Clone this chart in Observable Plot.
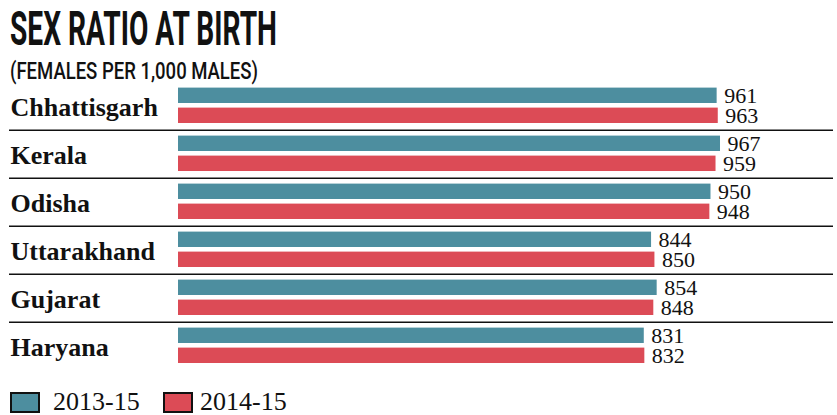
<!DOCTYPE html>
<html>
<head>
<meta charset="utf-8">
<script src="https://cdn.jsdelivr.net/npm/d3@7"></script>
<script src="https://cdn.jsdelivr.net/npm/@observablehq/plot@0.6"></script>
<style>
  html, body { margin: 0; padding: 0; background: #fff; }
  #wrap { position: relative; width: 837px; height: 415px; overflow: hidden; }
  #header { position: relative; height: 84px; }
  .hd { position: absolute; left: 10px; white-space: nowrap; display: inline-block; transform-origin: 0 0; color: #111; font-family: Roboto, "DejaVu Sans", sans-serif; }
  #title { top: 5px; font-size: 48px; line-height: 48px; font-weight: 700; }
  #subtitle { top: 59px; font-size: 24px; line-height: 24px; font-weight: 500; }
  #legend { position: relative; height: 35px; }
  .sw { position: absolute; box-sizing: border-box; width: 30px; height: 21px; border: 2px solid #111; top: 12px; }
  .lt { position: absolute; top: 9px; font-family: "Liberation Serif", "DejaVu Serif", serif; font-size: 26px; line-height: 25px; color: #111; white-space: nowrap; }
  #chart svg { display: block; }
</style>
</head>
<body>
<div id="wrap">
  <div id="header">
    <span class="hd" id="title">SEX RATIO AT BIRTH</span>
    <span class="hd" id="subtitle">(FEMALES PER 1,000 MALES)</span>
  </div>
  <div id="chart"></div>
  <div id="legend"></div>
</div>
<script>
const states = ["Chhattisgarh", "Kerala", "Odisha", "Uttarakhand", "Gujarat", "Haryana"];
const values2013 = [961, 967, 950, 844, 854, 831];
const values2014 = [963, 959, 948, 850, 848, 832];
const seriesNames = ["2013-15", "2014-15"];
const seriesColors = ["#4d8e9f", "#dc4b56"];

const rows2013 = states.map((s, i) => ({state: s, value: values2013[i]}));
const rows2014 = states.map((s, i) => ({state: s, value: values2014[i]}));

const band = 48.6;
const y0 = -3.6;

const chart = Plot.plot({
  width: 837,
  height: 296,
  marginLeft: 9,
  marginRight: 4,
  marginTop: 0,
  marginBottom: 0,
  style: {background: "transparent"},
  x: {domain: [0, 1000], range: [178, 178 + 560.5], axis: null},
  y: {type: "band", domain: states, range: [y0, y0 + band * states.length], padding: 0, axis: null},
  marks: [
    Plot.barX(rows2013, {x: "value", y: "state", fill: seriesColors[0], insetTop: 5.6, insetBottom: 27}),
    Plot.barX(rows2014, {x: "value", y: "state", fill: seriesColors[1], insetTop: 25.6, insetBottom: 7}),
    Plot.ruleY(states.slice(1), {y: d => d, dy: -band / 2, stroke: "#111", strokeWidth: 1.5}),
    Plot.text(states, {y: d => d, text: d => d, frameAnchor: "left", textAnchor: "start", dx: 1, dy: 1.5,
      fontFamily: "Liberation Serif, DejaVu Serif, serif", fontWeight: "bold", fontSize: 26, fill: "#111"}),
    Plot.text(rows2013, {x: "value", y: "state", text: d => String(d.value), textAnchor: "start", dx: 7, dy: -10.7,
      fontFamily: "Liberation Serif, DejaVu Serif, serif", fontSize: 22, fill: "#111"}),
    Plot.text(rows2014, {x: "value", y: "state", text: d => String(d.value), textAnchor: "start", dx: 7, dy: 9.3,
      fontFamily: "Liberation Serif, DejaVu Serif, serif", fontSize: 22, fill: "#111"})
  ]
});
document.getElementById("chart").appendChild(chart);

// legend
const legend = document.getElementById("legend");
const swX = [10, 163];
const txX = [53, 200];
seriesNames.forEach((name, i) => {
  const sw = document.createElement("div");
  sw.className = "sw";
  sw.style.left = swX[i] + "px";
  sw.style.background = seriesColors[i];
  legend.appendChild(sw);
  const t = document.createElement("span");
  t.className = "lt";
  t.style.left = txX[i] + "px";
  t.textContent = name;
  legend.appendChild(t);
});

// fit header widths (condensed look)
function fit(id, w) {
  const el = document.getElementById(id);
  const r = el.getBoundingClientRect().width;
  el.style.transform = `scaleX(${w / r})`;
}
fit("title", 267);
fit("subtitle", 248);
</script>
</body>
</html>
